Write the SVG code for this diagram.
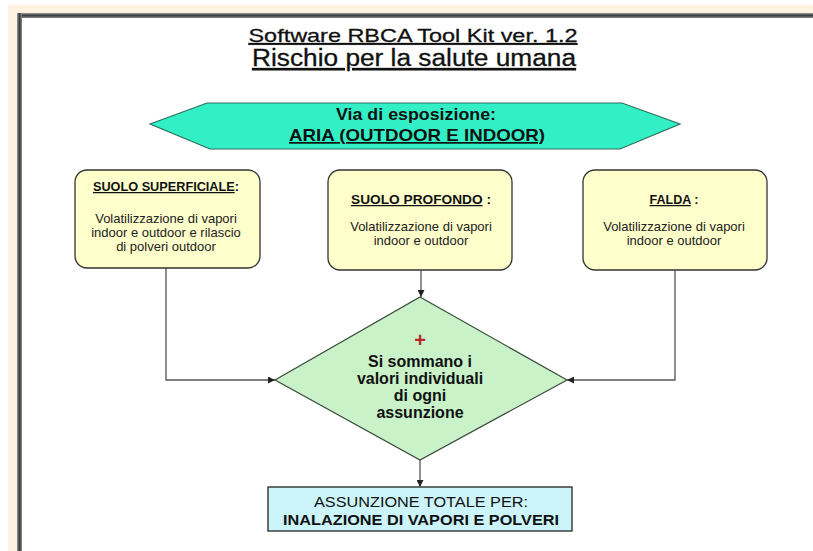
<svg xmlns="http://www.w3.org/2000/svg" width="813" height="551" viewBox="0 0 813 551">
  <defs>
    <marker id="arrow" viewBox="0 0 10 10" refX="10" refY="5" markerWidth="7" markerHeight="7" markerUnits="userSpaceOnUse" orient="auto">
      <path d="M0,0 L10,5 L0,10 z" fill="#222"/>
    </marker>
    <linearGradient id="frameTop" x1="0" y1="0" x2="0" y2="1">
      <stop offset="0" stop-color="#9a9a9a"/>
      <stop offset="0.5" stop-color="#3c3c3c"/>
      <stop offset="1" stop-color="#8a8a8a"/>
    </linearGradient>
    <linearGradient id="frameLeft" x1="0" y1="0" x2="1" y2="0">
      <stop offset="0" stop-color="#9a9a9a"/>
      <stop offset="0.5" stop-color="#3c3c3c"/>
      <stop offset="1" stop-color="#8a8a8a"/>
    </linearGradient>
  </defs>
  <style>
    .t { font-family: "Liberation Sans", Arial, sans-serif; fill: #111; text-anchor: middle; }
    .title { font-size: 19px; text-decoration: underline; stroke: #111; stroke-width: 0.3; }
    .title2 { font-size: 23px; text-decoration: underline; stroke: #111; stroke-width: 0.3; }
    .hex { fill: #33efc6; stroke: #2f6f5a; stroke-width: 1.2; }
    .hext { font-size: 17px; font-weight: bold; }
    .src { fill: #ffffcc; stroke: #333; stroke-width: 1.3; }
    .head { font-size: 12.5px; font-weight: bold; }
    .body { font-size: 13px; fill: #222; }
    .dia { fill: #c9f2c9; stroke: #3a4a3a; stroke-width: 1.2; }
    .diat { font-size: 16px; font-weight: bold; }
    .out { fill: #ccf5fb; stroke: #222; stroke-width: 1.3; }
    .outt { font-size: 15px; }
    .conn { fill: none; stroke: #555; stroke-width: 1.3; marker-end: url(#arrow); }
  </style>

  <!-- page background and window frame -->
  <rect width="813" height="551" fill="#ffffff"/>
  <rect x="8" y="5" width="805" height="546" fill="#fdf3e0"/>
  <rect x="17" y="13" width="796" height="538" fill="#ffffff"/>
  <rect x="17" y="13" width="796" height="5" fill="url(#frameTop)"/>
  <rect x="17" y="13" width="5" height="538" fill="url(#frameLeft)"/>

  <!-- titles -->
  <g id="title">
    <text class="t title" x="413" y="42" textLength="329" lengthAdjust="spacingAndGlyphs">Software RBCA Tool Kit ver. 1.2</text>
    <text class="t title2" x="414" y="66" textLength="324" lengthAdjust="spacingAndGlyphs">Rischio per la salute umana</text>
  </g>

  <!-- exposure pathway banner -->
  <g id="via">
    <polygon class="hex" points="150,124 207,103 622,103 680,124 620,149 210,149"/>
    <text class="t hext" x="416" y="120" textLength="160" lengthAdjust="spacingAndGlyphs">Via di esposizione:</text>
    <text class="t hext" x="417" y="141" textLength="256" lengthAdjust="spacingAndGlyphs" text-decoration="underline">ARIA (OUTDOOR E INDOOR)</text>
  </g>

  <!-- sources -->
  <g id="suolo-superficiale">
    <rect class="src" x="75" y="170" width="185" height="98" rx="12"/>
    <text class="t head" x="166" y="191" textLength="146" lengthAdjust="spacingAndGlyphs"><tspan text-decoration="underline">SUOLO SUPERFICIALE</tspan>:</text>
    <text class="t body" x="166" y="223">Volatilizzazione di vapori</text>
    <text class="t body" x="166" y="237">indoor e outdoor e rilascio</text>
    <text class="t body" x="166" y="251">di polveri outdoor</text>
  </g>

  <g id="suolo-profondo">
    <rect class="src" x="328" y="170" width="184" height="100" rx="12"/>
    <text class="t head" x="421" y="204" textLength="140" lengthAdjust="spacingAndGlyphs"><tspan text-decoration="underline">SUOLO PROFONDO</tspan> :</text>
    <text class="t body" x="421" y="231">Volatilizzazione di vapori</text>
    <text class="t body" x="421" y="245">indoor e outdoor</text>
  </g>

  <g id="falda">
    <rect class="src" x="583" y="170" width="184" height="100" rx="12"/>
    <text class="t head" x="674" y="204"><tspan text-decoration="underline">FALDA</tspan> :</text>
    <text class="t body" x="674" y="231">Volatilizzazione di vapori</text>
    <text class="t body" x="674" y="245">indoor e outdoor</text>
  </g>

  <!-- summation decision -->
  <g id="somma">
    <polygon class="dia" points="420,297 567,380 420,460 275,380"/>
    <text x="420" y="347" font-family="Liberation Sans, Arial, sans-serif" font-size="20" font-weight="bold" fill="#b8282a" text-anchor="middle">+</text>
    <text class="t diat" x="420" y="367">Si sommano i</text>
    <text class="t diat" x="420" y="384">valori individuali</text>
    <text class="t diat" x="420" y="401">di ogni</text>
    <text class="t diat" x="420" y="418">assunzione</text>
  </g>

  <!-- total intake -->
  <g id="totale">
    <rect class="out" x="268" y="487" width="304" height="44"/>
    <text class="t outt" x="421" y="507" textLength="214" lengthAdjust="spacingAndGlyphs">ASSUNZIONE TOTALE PER:</text>
    <text class="t outt" x="421" y="525" font-weight="bold" textLength="276" lengthAdjust="spacingAndGlyphs">INALAZIONE DI VAPORI E POLVERI</text>
  </g>

  <!-- connectors -->
  <g id="connectors">
    <path class="conn" d="M166,268 V380 H275"/>
    <path class="conn" d="M421,270 V297"/>
    <path class="conn" d="M675,270 V380 H567"/>
    <path class="conn" d="M420,460 V487"/>
  </g>
</svg>
